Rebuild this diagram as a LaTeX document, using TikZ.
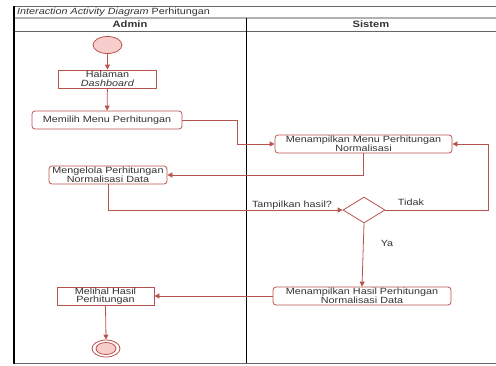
\documentclass[tikz,border=0pt]{standalone}
\usepackage{fontspec}
\setmainfont{Liberation Sans}[FakeStretch=1.2]
\usetikzlibrary{arrows.meta,shapes.geometric}
\definecolor{edge}{HTML}{B85450}
\definecolor{pink}{HTML}{F8CECC}
\definecolor{ink}{HTML}{333333}
\begin{document}
\begin{tikzpicture}[x=1pt,y=-1pt,
  every node/.style={font=\fontsize{9}{8.6}\selectfont, text=ink, inner sep=0pt},
  act/.style={draw=edge, fill=white, line width=0.8pt, rounded corners=3pt, align=center, minimum height=18pt},
  plainact/.style={draw=edge, fill=white, line width=0.8pt, align=center, minimum height=18pt},
  flow/.style={draw=edge, line width=0.8pt, -{Triangle[length=5pt,width=5pt]}},
  lbl/.style={text=ink}]
\useasboundingbox (0,0) rectangle (496,365);

% swimlane frame
\draw[gray!80!black, line width=0.8pt] (14,6) -- (496,6);
\draw[gray!60, line width=1.4pt] (14,18) -- (496,18);
\draw[gray!80!black, line width=0.8pt] (14,31) -- (496,31);
\draw[gray!80!black, line width=1pt] (14,363) -- (496,363);
\draw[black, line width=1.4pt] (14,6) -- (14,363.5);
\draw[black, line width=1pt] (246,18) -- (246,363);
\node[anchor=west] (title) at (17,12) {\textit{Interaction Activity Diagram} Perhitungan};
\node[font=\fontsize{9.3}{10}\selectfont\bfseries] (admin) at (130,24.5) {Admin};
\node[font=\fontsize{9.3}{10}\selectfont\bfseries] (sistem) at (371,24.5) {Sistem};

% activities
\node[ellipse, draw=edge, fill=pink, line width=0.8pt, minimum width=29pt, minimum height=17pt] (start) at (107.5,45) {};
\node[plainact, minimum width=98pt] (dash) at (107.5,79) {Halaman\\\textit{Dashboard}};
\node[act, minimum width=150pt] (pilih) at (107,120) {Memilih Menu Perhitungan};
\node[act, minimum width=177pt] (menu) at (363.5,144) {Menampilkan Menu Perhitungan\\Normalisasi};
\node[act, minimum width=118pt] (kelola) at (108,175) {Mengelola Perhitungan\\Normalisasi Data};
\node[diamond, draw=edge, fill=white, line width=0.8pt, minimum width=42pt, minimum height=26pt, aspect=1.6] (cek) at (364,210) {};
\node[act, minimum width=178pt] (hasil) at (362,296) {Menampilkan Hasil Perhitungan\\Normalisasi Data};
\node[plainact, minimum width=97pt] (lihat) at (105.5,296) {Melihal Hasil\\Perhitungan};
\node[ellipse, draw=edge, fill=white, line width=0.8pt, minimum width=28pt, minimum height=17pt] (stop) at (106,348.5) {};
\node[ellipse, draw=edge, fill=pink, line width=0.8pt, minimum width=20pt, minimum height=12pt] (stopin) at (106,348.5) {};

% flows
\coordinate (bendA) at (237,120);
\coordinate (bendB) at (488,210);
\draw[flow] (start) -- (dash);
\draw[flow] (dash) -- (pilih);
\draw[flow] (pilih.east) -- (bendA) |- (menu.west);
\draw[flow] (menu.south) |- (kelola.east);
\draw[flow] (kelola.south) |- (cek.west);
\draw[flow] (cek.east) -- (bendB) |- (menu.east);
\draw[flow] (cek.south) -- (hasil.north);
\draw[flow] (hasil.west) -- (lihat.east);
\draw[flow] (lihat.south) -- (stop.north);

% guard labels
\node[lbl] (qhasil) at (292,205) {Tampilkan hasil?};
\node[lbl] (tidak) at (411,202) {Tidak};
\node[lbl] (ya) at (387,243) {Ya};
\end{tikzpicture}
\end{document}
